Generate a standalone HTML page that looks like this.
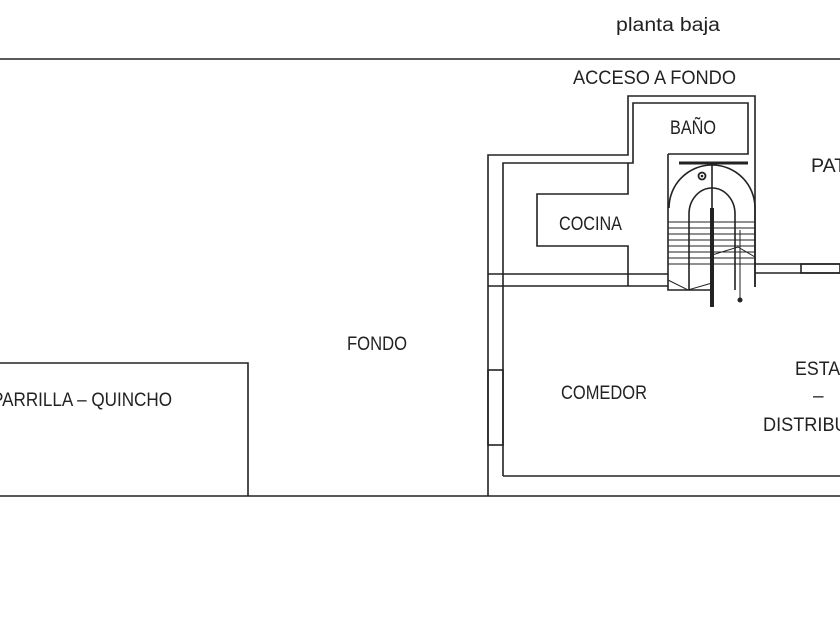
<!DOCTYPE html>
<html><head><meta charset="utf-8"><style>
html,body{margin:0;padding:0;background:#fff;width:840px;height:630px;overflow:hidden}
svg{display:block}
text{font-family:"Liberation Sans",sans-serif;font-size:19px;fill:#222}
</style></head><body>
<svg width="840" height="630" viewBox="0 0 840 630" xmlns="http://www.w3.org/2000/svg">
<g fill="none" stroke="#222" stroke-width="1.6">
<line x1="0" y1="59" x2="840" y2="59"/>
<line x1="0" y1="496" x2="840" y2="496"/>
<polyline points="0,363 248,363 248,496"/>
<polyline points="488,496 488,155 628,155 628,96 755,96 755,287"/>
<polyline points="503,476 503,163 633,163 633,103 748,103 748,154 668,154"/>
<line x1="503" y1="476" x2="840" y2="476"/>
<polyline points="628,163 628,194 537,194 537,246 628,246 628,286"/>
<line x1="488" y1="274" x2="668" y2="274"/>
<line x1="488" y1="286" x2="668" y2="286"/>
<line x1="755" y1="264" x2="840" y2="264"/>
<line x1="755" y1="273" x2="840" y2="273"/>
<rect x="801" y="264" width="39" height="9"/>
<rect x="488" y="370" width="15" height="75"/>
<polyline points="668,154 668,290 712,290"/>
<path d="M669,208 A43,43 0 0 1 755,208 L755,287"/>
<path d="M689,214 L689,290 M689,214 A23,26 0 0 1 735,214 L735,290"/>
<line x1="712" y1="165" x2="712" y2="208"/>
<g stroke-width="1">
<line x1="668" y1="222" x2="755" y2="222"/>
<line x1="668" y1="228" x2="755" y2="228"/>
<line x1="668" y1="234" x2="755" y2="234"/>
<line x1="668" y1="240" x2="755" y2="240"/>
<line x1="668" y1="246" x2="755" y2="246"/>
<line x1="668" y1="252" x2="755" y2="252"/>
<line x1="668" y1="258" x2="755" y2="258"/>
<line x1="668" y1="264" x2="755" y2="264"/>
<polyline points="712,255 738,247 755,257"/>
<polyline points="668,280 688,290 712,283"/>
<line x1="740" y1="230" x2="740" y2="300"/>
</g>
<line x1="679" y1="163" x2="748" y2="163" stroke-width="3"/>
<line x1="712" y1="208" x2="712" y2="307" stroke-width="4"/>
<circle cx="702" cy="176" r="3.5" stroke-width="1.8"/>
</g>
<circle cx="740" cy="300" r="2.5" fill="#222"/>
<circle cx="702" cy="176" r="1.3" fill="#222"/>
<text x="616" y="31" textLength="104" lengthAdjust="spacingAndGlyphs">planta  baja</text>
<text x="573" y="84" textLength="163" lengthAdjust="spacingAndGlyphs">ACCESO  A  FONDO</text>
<text x="670" y="134" textLength="46" lengthAdjust="spacingAndGlyphs">BAÑO</text>
<text x="811" y="172" textLength="56" lengthAdjust="spacingAndGlyphs">PATIO</text>
<text x="559" y="230" textLength="63" lengthAdjust="spacingAndGlyphs">COCINA</text>
<text x="347" y="350" textLength="60" lengthAdjust="spacingAndGlyphs">FONDO</text>
<text x="-8" y="406" textLength="180" lengthAdjust="spacingAndGlyphs">PARRILLA  –  QUINCHO</text>
<text x="561" y="399" textLength="86" lengthAdjust="spacingAndGlyphs">COMEDOR</text>
<text x="795" y="375" textLength="58" lengthAdjust="spacingAndGlyphs">ESTAR</text>
<text x="813" y="402">–</text>
<text x="763" y="431" textLength="130" lengthAdjust="spacingAndGlyphs">DISTRIBUIDOR</text>
</svg>
</body></html>
